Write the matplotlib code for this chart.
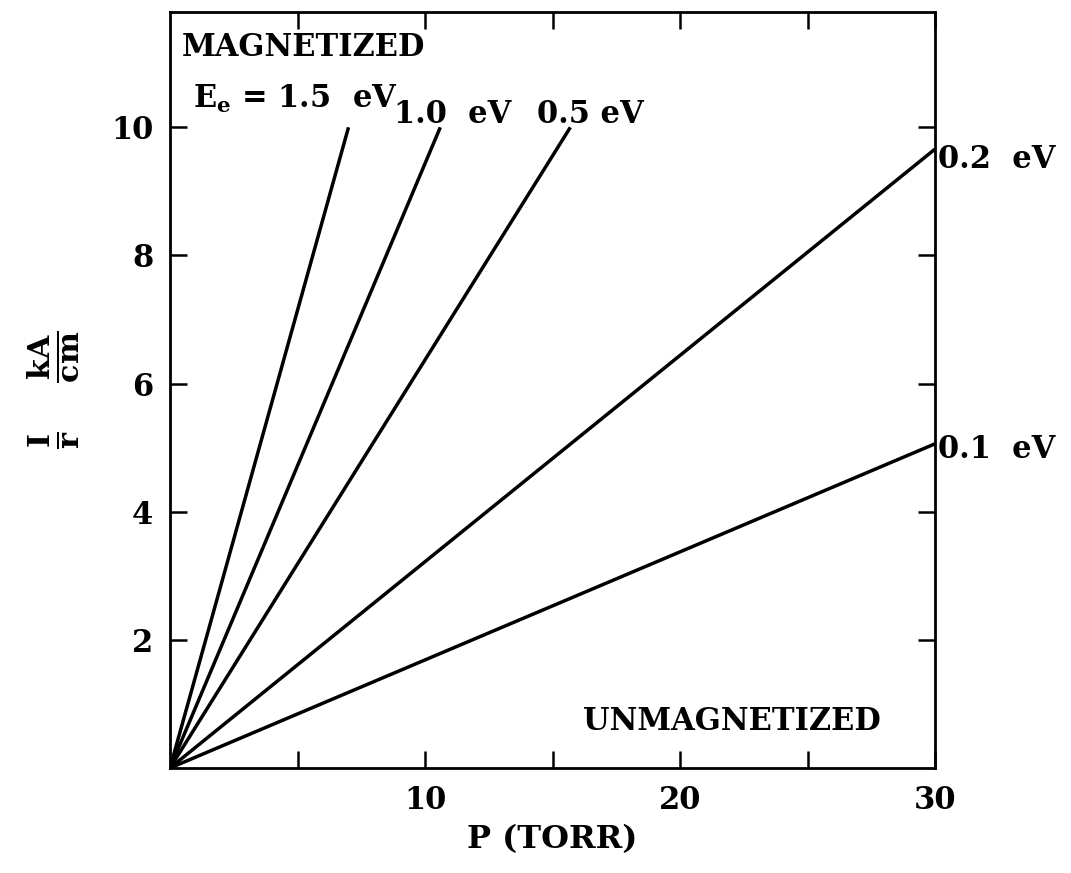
import matplotlib
matplotlib.use("Agg")
import matplotlib.pyplot as plt

# Data: each line goes from the origin to its end point
energies = ["1.5", "1.0", "0.5", "0.2", "0.1"]
end_p = [7.0, 10.6, 15.7, 30.0, 30.0]
end_ir = [10.0, 10.0, 10.0, 9.66, 5.06]

x_major = [10, 20, 30]
x_minor = [5, 15, 25]
y_ticks = [2, 4, 6, 8, 10]

plt.rcParams['font.family'] = ['DejaVu Serif']
plt.rcParams['font.weight'] = 'bold'
plt.rcParams['mathtext.fontset'] = 'dejavuserif'
plt.rcParams['mathtext.default'] = 'bf'

fig = plt.figure(figsize=(10.71, 8.73), dpi=100)
ax = fig.add_axes([170/1071, 1-768/873, (935-170)/1071, (768-12)/873])

for xe, ye in zip(end_p, end_ir):
    ax.plot([0, xe], [0, ye], color='black', lw=2.5, solid_capstyle='butt')

ax.set_xlim(0, 30)
ax.set_ylim(0, 11.8)
ax.set_xticks(x_major)
ax.set_xticks(x_minor, minor=True)
ax.set_yticks(y_ticks)
ax.tick_params(axis='both', which='both', direction='in', top=True, right=True,
               width=1.8, labelsize=22)
ax.tick_params(axis='both', which='major', length=12, pad=12)
ax.tick_params(axis='x', which='minor', length=12)
for lab in ax.get_xticklabels() + ax.get_yticklabels():
    lab.set_fontweight('bold')
for s in ax.spines.values():
    s.set_linewidth(2.0)

ax.set_xlabel('P (TORR)', fontsize=23, fontweight='bold', labelpad=6)
ax.set_ylabel(r'$\frac{I}{r}\ \ \ \frac{kA}{cm}$', fontsize=31, labelpad=22)

fs = 22
ax.text(0.45, 11.25, 'MAGNETIZED', fontsize=fs, fontweight='bold', va='center', ha='left')
ax.text(0.9, 10.45, r'$E_e$ = 1.5  eV', fontsize=fs, fontweight='bold', va='center', ha='left')
ax.text(8.8, 10.2, '1.0  eV', fontsize=fs, fontweight='bold', va='center', ha='left')
ax.text(14.4, 10.2, '0.5 eV', fontsize=fs, fontweight='bold', va='center', ha='left')
ax.text(30.1, 9.5, '0.2  eV', fontsize=fs, fontweight='bold', va='center', ha='left', clip_on=False)
ax.text(30.1, 4.97, '0.1  eV', fontsize=fs, fontweight='bold', va='center', ha='left', clip_on=False)
ax.text(16.2, 0.72, 'UNMAGNETIZED', fontsize=fs, fontweight='bold', va='center', ha='left')

fig.savefig('out.png', dpi=100)
